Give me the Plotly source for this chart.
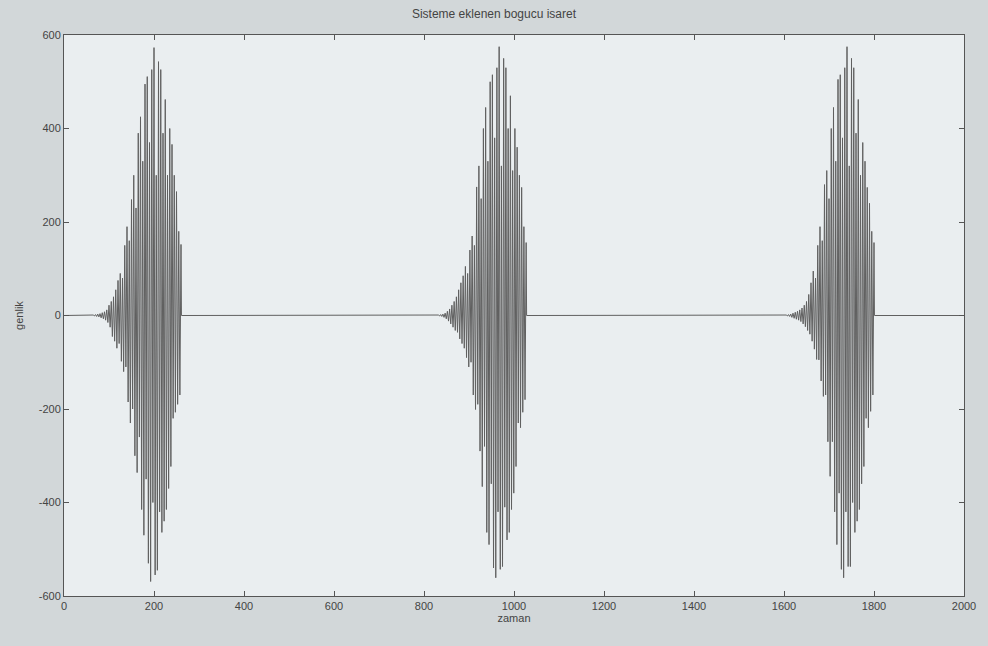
import plotly.graph_objects as go

# ---- data ----
title_text = "Sisteme eklenen bogucu isaret"
x_label = "zaman"
y_label = "genlik"

x_ticks = [0, 200, 400, 600, 800, 1000, 1200, 1400, 1600, 1800, 2000]
y_ticks = [-600, -400, -200, 0, 200, 400, 600]
y_tick_labels = ["-600", "-400", "-200", "0", "200", "400", "600"]

burst_starts = [60, 827, 1600]
sample_step = 2.5

burst1 = [0, 0, 1, -1, 2, -2, 3, -3, 4, -5, 6, -7, 8, -10, 12, -15,
          22, -25, 30, -45, 40, -55, 55, -70, 75, -60, 90, -98, 80, -120,
          150, -110, 190, -185, 160, -230, 248, -200, 300, -300, 230, -336,
          390, -260, 425, -415, 330, -470, 495, -350, 511, -530, 370, -569,
          526, -400, 573, -555, 300, -545, 543, -420, 526, -464, 390, -440,
          462, -415, 300, -370, 400, -323, 366, -220, 300, -207, 265, -190,
          180, -170, 152]
burst2 = [0, 0, 1, -1, 2, -2, 3, -4, 5, -7, 9, -12, 14, -18, 22, -25,
          30, -32, 40, -36, 55, -50, 70, -60, 85, -70, 105, -90, 90, -110,
          140, -100, 170, -170, 150, -201, 275, -190, 320, -290, 250, -366,
          400, -280, 445, -464, 330, -490, 500, -360, 515, -540, 380, -561,
          530, -420, 575, -543, 320, -537, 550, -410, 530, -480, 400, -464,
          470, -415, 310, -380, 400, -323, 360, -230, 300, -240, 274, -207,
          190, -180, 156]
burst3 = [0, 0, 1, -1, 2, -2, 3, -4, 5, -6, 7, -8, 9, -10, 12, -13,
          16, -18, 22, -24, 30, -32, 45, -40, 70, -55, 95, -72, 80, -94,
          150, -95, 190, -140, 160, -173, 280, -170, 310, -270, 250, -344,
          400, -270, 445, -420, 330, -490, 505, -380, 515, -543, 380, -561,
          530, -420, 575, -537, 320, -537, 550, -400, 530, -464, 390, -440,
          462, -415, 300, -360, 370, -323, 330, -220, 274, -240, 240, -205,
          180, -170, 156]
bursts = [burst1, burst2, burst3]

x_range = [0, 2000]
y_range = [-600, 600]

# ---- build the series ----
xs, ys = [x_range[0]], [0]
for start, vals in zip(burst_starts, bursts):
    xs.append(start - 3)
    ys.append(0)
    for i, v in enumerate(vals):
        xs.append(start + sample_step * i)
        ys.append(v)
    xs.append(start + sample_step * (len(vals) - 1) + 1)
    ys.append(0)
xs.append(x_range[1])
ys.append(0)

fig = go.Figure()
fig.add_trace(go.Scatter(x=xs, y=ys, mode="lines",
                         line=dict(color="#606060", width=1),
                         hoverinfo="skip", showlegend=False))

axis_common = dict(showline=True, mirror="ticks", linecolor="#555555", linewidth=1,
                   ticks="inside", ticklen=5, tickcolor="#555555",
                   showgrid=False, zeroline=False,
                   tickfont=dict(family="Liberation Sans, Arial", size=11, color="#444444"))

fig.update_layout(
    width=988, height=646,
    margin=dict(l=64, r=15, t=35, b=50),
    paper_bgcolor="#d2d7d9",
    plot_bgcolor="#eaeef0",
    title=dict(text=title_text, x=0.5, xanchor="center", y=0.985, yanchor="top",
               font=dict(family="Liberation Sans, Arial", size=12, color="#444444")),
    xaxis=dict(range=x_range, tickvals=x_ticks, title=dict(text=x_label, standoff=2,
               font=dict(family="Liberation Sans, Arial", size=11, color="#444444")),
               **axis_common),
    yaxis=dict(range=y_range, tickvals=y_ticks, ticktext=y_tick_labels,
               title=dict(text=y_label, standoff=12,
               font=dict(family="Liberation Sans, Arial", size=11, color="#444444")),
               **axis_common),
)

fig.write_html("out.html")
